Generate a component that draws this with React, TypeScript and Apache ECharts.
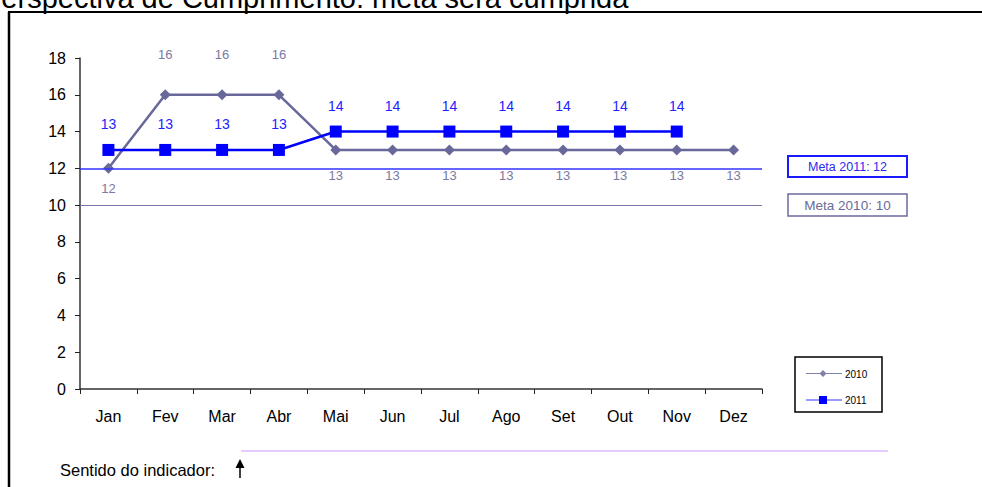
import React, { useEffect, useRef } from "react";
import * as echarts from "echarts";

const months = ["Jan", "Fev", "Mar", "Abr", "Mai", "Jun", "Jul", "Ago", "Set", "Out", "Nov", "Dez"];
const values2010 = [12, 16, 16, 16, 13, 13, 13, 13, 13, 13, 13, 13];
const values2011 = [13, 13, 13, 13, 14, 14, 14, 14, 14, 14, 14];
const meta2011 = 12;
const meta2010 = 10;
const yTicks = { min: 0, max: 18, interval: 2 };
const seriesNames = ["2010", "2011"];
const title = "Perspectiva de Cumprimento: meta será cumprida";
const footer = "Sentido do indicador:";

const C2010 = "#68689a";
const C2011 = "#0000ff";
const FONT = "Liberation Sans, Arial, sans-serif";

export default function App() {
  const ref = useRef<HTMLDivElement>(null);
  useEffect(() => {
    if (!ref.current) return;
    const chart = echarts.init(ref.current, null, { renderer: "svg" });
    const data2010 = values2010.map((v, i) => {
      let label: any;
      if (i === 0) label = { position: "bottom", distance: 8 };
      else if (v === 16) label = { position: "top", distance: 28 };
      else label = { position: "bottom", distance: 14 };
      return { value: v, label };
    });
    chart.setOption({
      animation: false,
      textStyle: { fontFamily: FONT },
      grid: { left: 80, right: 220, top: 58, bottom: 98, containLabel: false },
      xAxis: {
        type: "category",
        data: months,
        boundaryGap: true,
        axisLine: { lineStyle: { color: "#333", width: 1.5 } },
        axisTick: { show: true, length: 5, lineStyle: { color: "#222" } },
        axisLabel: { color: "#000", fontSize: 16, margin: 19, fontFamily: FONT },
        splitLine: { show: false },
      },
      yAxis: {
        type: "value",
        min: yTicks.min,
        max: yTicks.max,
        interval: yTicks.interval,
        axisLine: { show: true, lineStyle: { color: "#333", width: 1.5 } },
        axisTick: { show: true, length: 5, lineStyle: { color: "#222" } },
        axisLabel: { color: "#000", fontSize: 16, margin: 14, fontFamily: FONT },
        splitLine: { show: false },
      },
      series: [
        {
          name: seriesNames[0],
          type: "line",
          data: data2010,
          symbol: "diamond",
          symbolSize: 11,
          lineStyle: { color: C2010, width: 2.5 },
          itemStyle: { color: C2010 },
          label: { show: true, color: "#7a7aa0", fontSize: 13, fontFamily: FONT },
          z: 3,
          markLine: {
            silent: true,
            symbol: ["none", "none"],
            label: { show: false },
            data: [
              { yAxis: meta2011, lineStyle: { color: "#3333ff", width: 1.5, type: "solid" } },
              { yAxis: meta2010, lineStyle: { color: "#7878aa", width: 1.2, type: "solid" } },
            ],
          },
        },
        {
          name: seriesNames[1],
          type: "line",
          data: values2011,
          symbol: "rect",
          symbolSize: 12,
          lineStyle: { color: C2011, width: 2.5 },
          itemStyle: { color: C2011 },
          label: { show: true, position: "top", distance: 13, color: "#2222ff", fontSize: 14, fontFamily: FONT },
          z: 4,
        },
      ],
      graphic: [
        {
          type: "text",
          left: -18,
          top: -17,
          style: { text: title, font: `29px ${FONT}`, fill: "#000" },
        },
        { type: "line", shape: { x1: 9, y1: 12, x2: 9, y2: 490 }, style: { stroke: "#000", lineWidth: 2.5 } },
        { type: "line", shape: { x1: 8, y1: 12, x2: 990, y2: 12 }, style: { stroke: "#000", lineWidth: 2 } },
        {
          type: "rect",
          shape: { x: 788, y: 156, width: 119, height: 21 },
          style: { fill: "#fff", stroke: "#1a1aff", lineWidth: 2 },
        },
        {
          type: "text",
          x: 847.5,
          y: 166.5,
          style: { text: `Meta 2011: ${meta2011}`, font: `12.5px ${FONT}`, fill: "#2a2aee", align: "center", verticalAlign: "middle" },
        },
        {
          type: "rect",
          shape: { x: 788, y: 194, width: 119, height: 22 },
          style: { fill: "#fff", stroke: "#6a6aa0", lineWidth: 1.5 },
        },
        {
          type: "text",
          x: 847.5,
          y: 205,
          style: { text: `Meta 2010: ${meta2010}`, font: `13.5px ${FONT}`, fill: "#6a6a9a", align: "center", verticalAlign: "middle" },
        },
        {
          type: "rect",
          shape: { x: 795, y: 357, width: 87, height: 55 },
          style: { fill: "#fff", stroke: "#000", lineWidth: 1.5 },
        },
        { type: "line", shape: { x1: 806, y1: 373.5, x2: 842, y2: 373.5 }, style: { stroke: "#8080aa", lineWidth: 1.2 } },
        { type: "polygon", shape: { points: [[823, 370], [826.5, 373.5], [823, 377], [819.5, 373.5]] }, style: { fill: "#8080aa" } },
        {
          type: "text",
          x: 845,
          y: 374,
          style: { text: seriesNames[0], font: `10px ${FONT}`, fill: "#000", verticalAlign: "middle" },
        },
        { type: "line", shape: { x1: 806, y1: 400, x2: 842, y2: 400 }, style: { stroke: "#3333ff", lineWidth: 1.2 } },
        { type: "rect", shape: { x: 819, y: 396, width: 8, height: 8 }, style: { fill: "#0000ff" } },
        {
          type: "text",
          x: 845,
          y: 400.5,
          style: { text: seriesNames[1], font: `10px ${FONT}`, fill: "#000", verticalAlign: "middle" },
        },
        { type: "line", shape: { x1: 241, y1: 451, x2: 888, y2: 451 }, style: { stroke: "#cc99ff", lineWidth: 1.2 } },
        {
          type: "text",
          x: 60,
          y: 470,
          style: { text: footer, font: `16.5px ${FONT}`, fill: "#000", verticalAlign: "middle" },
        },
        { type: "line", shape: { x1: 240, y1: 466, x2: 240, y2: 478 }, style: { stroke: "#000", lineWidth: 1.5 } },
        { type: "polygon", shape: { points: [[240, 459], [235.5, 468], [244.5, 468]] }, style: { fill: "#000" } },
      ],
    });
    return () => chart.dispose();
  }, []);
  return <div ref={ref} style={{ position: "fixed", left: 0, top: 0, width: 982, height: 487, background: "#fff" }} />;
}
